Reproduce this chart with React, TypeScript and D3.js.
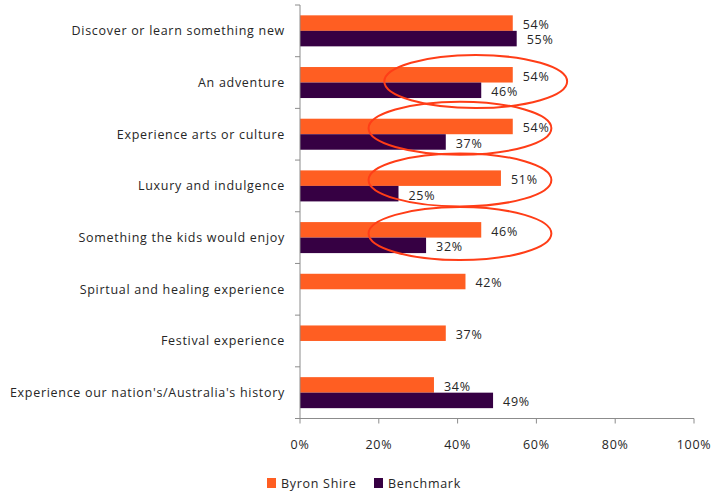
import React from "react";
import * as d3 from "d3";

const categories = [
  "Discover or learn something new",
  "An adventure",
  "Experience arts or culture",
  "Luxury and indulgence",
  "Something the kids would enjoy",
  "Spirtual and healing experience",
  "Festival experience",
  "Experience our nation's/Australia's history",
];
const byronShire: (number | null)[] = [54, 54, 54, 51, 46, 42, 37, 34];
const benchmark: (number | null)[] = [55, 46, 37, 25, 32, null, null, 49];
const seriesNames = ["Byron Shire", "Benchmark"];
const seriesColors = ["#FF5E22", "#360043"];
const xTicks = [0, 20, 40, 60, 80, 100];
// highlighted categories (red ellipses): category, centre value %, half-width %
const highlights = [
  { cat: "An adventure", center: 44.6, half: 23.2, dy: -1 },
  { cat: "Experience arts or culture", center: 40.6, half: 23.2, dy: -6 },
  { cat: "Luxury and indulgence", center: 40.6, half: 23.2, dy: -6 },
  { cat: "Something the kids would enjoy", center: 40.6, half: 23.2, dy: -4 },
];

const W = 715;
const H = 496;
const FONT = "'Open Sans', Lato, sans-serif";

export default function App() {
  const left = 300;
  const right = 694;
  const top = 5;
  const bottom = 418.5;
  const x = d3.scaleLinear().domain([0, 100]).range([left, right]);
  const y = d3.scaleBand<string>().domain(categories).range([top, bottom]).paddingInner(0.4).paddingOuter(0.2);
  const yOuter = d3.scaleBand<string>().domain(categories).range([top, bottom]);
  const sub = d3.scaleBand<string>().domain(seriesNames).range([0, y.bandwidth()]);
  const series = [byronShire, benchmark];
  const axisColor = "#8c8c8c";
  const textColor = "#262626";
  const ls = 0.7;

  return (
    <svg width={W} height={H} style={{ position: "absolute", left: 0, top: 0, background: "#fff" }} fontFamily={FONT}>
      {/* bars */}
      {series.map((vals, si) =>
        vals.map((v, i) =>
          v == null ? null : (
            <g key={`${si}-${i}`}>
              <rect
                x={x(0)}
                y={(y(categories[i]) as number) + (sub(seriesNames[si]) as number)}
                width={x(v) - x(0)}
                height={sub.bandwidth()}
                fill={seriesColors[si]}
              />
              <text
                x={x(v) + 10}
                y={(y(categories[i]) as number) + (sub(seriesNames[si]) as number) + sub.bandwidth() / 2 + 1.5}
                dy="0.35em"
                fontSize={12.5}
                letterSpacing={ls}
                fill={textColor}
              >
                {v}%
              </text>
            </g>
          )
        )
      )}
      {/* y axis */}
      <line x1={left} x2={left} y1={top} y2={bottom} stroke={axisColor} />
      {categories.concat(["__end"]).map((c, i) => {
        const yy = i < categories.length ? (yOuter(c) as number) : bottom;
        return <line key={i} x1={left - 5} x2={left} y1={yy} y2={yy} stroke={axisColor} />;
      })}
      {categories.map((c) => (
        <text
          key={c}
          x={285}
          y={(yOuter(c) as number) + yOuter.bandwidth() / 2}
          dy="0.35em"
          textAnchor="end"
          fontSize={12.5}
          letterSpacing={ls}
          fill={textColor}
        >
          {c}
        </text>
      ))}
      {/* x axis */}
      <line x1={left} x2={right} y1={bottom} y2={bottom} stroke={axisColor} />
      {xTicks.map((t) => (
        <g key={t}>
          <line x1={x(t)} x2={x(t)} y1={bottom} y2={bottom + 5} stroke={axisColor} />
          <text x={x(t)} y={445} dy="0.35em" textAnchor="middle" fontSize={12.5} letterSpacing={ls} fill={textColor}>
            {t}%
          </text>
        </g>
      ))}
      {/* highlight ellipses */}
      {highlights.map((h) => (
        <ellipse
          key={h.cat}
          cx={x(h.center)}
          cy={(yOuter(h.cat) as number) + yOuter.bandwidth() / 2 + h.dy}
          rx={x(h.half) - x(0)}
          ry={26.5}
          fill="none"
          stroke="#FF3D17"
          strokeWidth={2}
        />
      ))}
      {/* legend */}
      {seriesNames.map((s, i) => {
        const lx = i === 0 ? 267 : 374;
        return (
          <g key={s}>
            <rect x={lx} y={478} width={9} height={10} fill={seriesColors[i]} />
            <text x={lx + 14} y={483.5} dy="0.35em" fontSize={12.5} letterSpacing={ls} fill={textColor}>
              {s}
            </text>
          </g>
        );
      })}
    </svg>
  );
}
